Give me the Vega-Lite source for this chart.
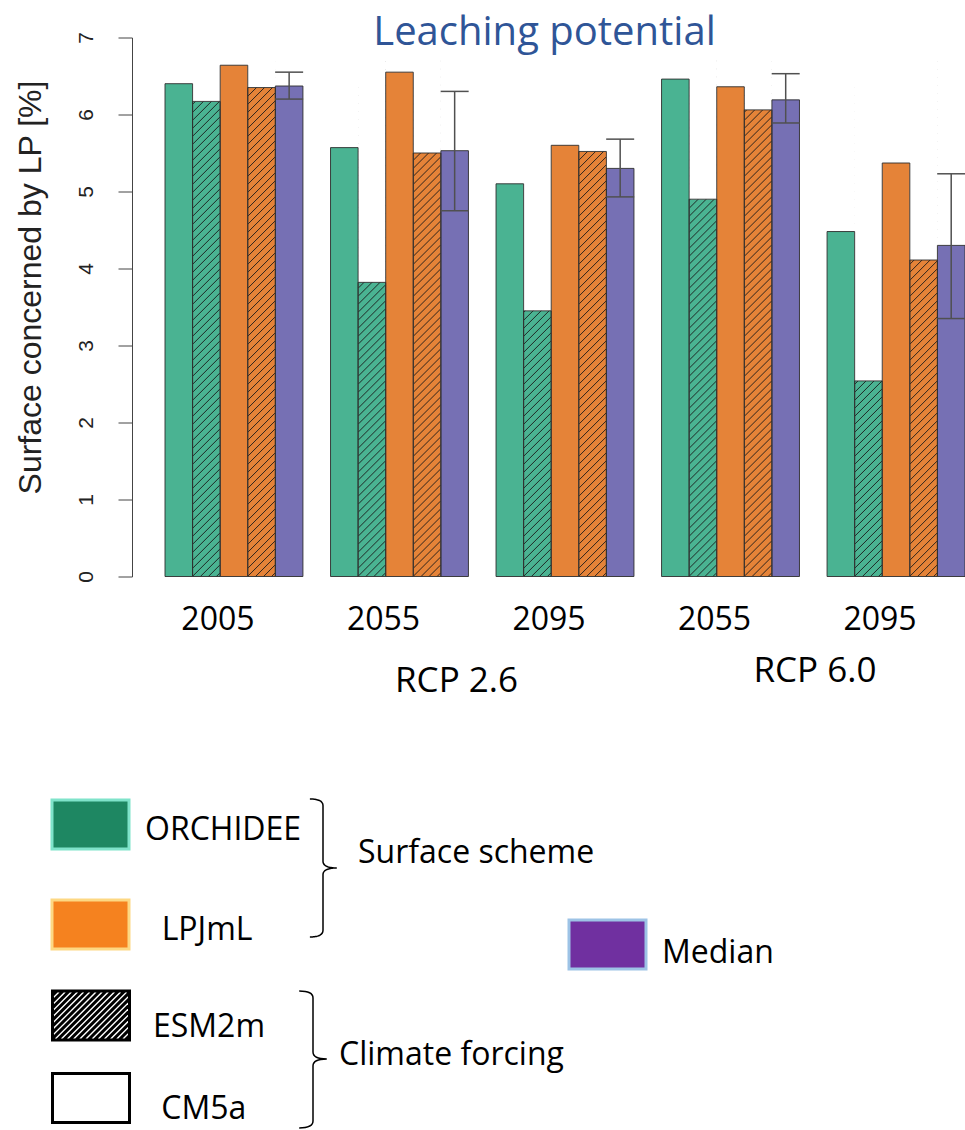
{
  "$schema": "https://vega.github.io/schema/vega-lite/v6.json",
  "width": 833,
  "height": 539,
  "autosize": {"type": "none"},
  "padding": {"left": 132, "top": 37.5, "right": 0, "bottom": 553.5},
  "background": "white",
  "title": {
    "text": "Leaching potential",
    "font": "Open Sans",
    "fontSize": 40,
    "fontWeight": "normal",
    "color": "#2f5597",
    "anchor": "middle",
    "frame": "group",
    "baseline": "alphabetic",
    "offset": -53,
    "dx": -4
  },
  "config": {
    "view": {"stroke": null},
    "axis": {"grid": false},
    "legend": {
      "labelFont": "Open Sans",
      "labelFontSize": 32,
      "labelColor": "#000000",
      "labelBaseline": "alphabetic",
      "labelLimit": 600,
      "padding": 0,
      "direction": "vertical",
      "orient": "none"
    }
  },
  "datasets": {
    "bars": [
      {"group": "2005", "series": "ORCHIDEE CM5a", "scheme": "ORCHIDEE", "forcing": "CM5a", "value": 6.40},
      {"group": "2005", "series": "ORCHIDEE ESM2m", "scheme": "ORCHIDEE", "forcing": "ESM2m", "value": 6.17},
      {"group": "2005", "series": "LPJmL CM5a", "scheme": "LPJmL", "forcing": "CM5a", "value": 6.64},
      {"group": "2005", "series": "LPJmL ESM2m", "scheme": "LPJmL", "forcing": "ESM2m", "value": 6.35},
      {"group": "2005", "series": "Median", "scheme": "Median", "forcing": null, "value": 6.37, "lo": 6.20, "hi": 6.55},
      {"group": "2055 RCP2.6", "series": "ORCHIDEE CM5a", "scheme": "ORCHIDEE", "forcing": "CM5a", "value": 5.57},
      {"group": "2055 RCP2.6", "series": "ORCHIDEE ESM2m", "scheme": "ORCHIDEE", "forcing": "ESM2m", "value": 3.82},
      {"group": "2055 RCP2.6", "series": "LPJmL CM5a", "scheme": "LPJmL", "forcing": "CM5a", "value": 6.55},
      {"group": "2055 RCP2.6", "series": "LPJmL ESM2m", "scheme": "LPJmL", "forcing": "ESM2m", "value": 5.50},
      {"group": "2055 RCP2.6", "series": "Median", "scheme": "Median", "forcing": null, "value": 5.53, "lo": 4.75, "hi": 6.30},
      {"group": "2095 RCP2.6", "series": "ORCHIDEE CM5a", "scheme": "ORCHIDEE", "forcing": "CM5a", "value": 5.10},
      {"group": "2095 RCP2.6", "series": "ORCHIDEE ESM2m", "scheme": "ORCHIDEE", "forcing": "ESM2m", "value": 3.45},
      {"group": "2095 RCP2.6", "series": "LPJmL CM5a", "scheme": "LPJmL", "forcing": "CM5a", "value": 5.60},
      {"group": "2095 RCP2.6", "series": "LPJmL ESM2m", "scheme": "LPJmL", "forcing": "ESM2m", "value": 5.52},
      {"group": "2095 RCP2.6", "series": "Median", "scheme": "Median", "forcing": null, "value": 5.30, "lo": 4.93, "hi": 5.68},
      {"group": "2055 RCP6.0", "series": "ORCHIDEE CM5a", "scheme": "ORCHIDEE", "forcing": "CM5a", "value": 6.46},
      {"group": "2055 RCP6.0", "series": "ORCHIDEE ESM2m", "scheme": "ORCHIDEE", "forcing": "ESM2m", "value": 4.90},
      {"group": "2055 RCP6.0", "series": "LPJmL CM5a", "scheme": "LPJmL", "forcing": "CM5a", "value": 6.36},
      {"group": "2055 RCP6.0", "series": "LPJmL ESM2m", "scheme": "LPJmL", "forcing": "ESM2m", "value": 6.06},
      {"group": "2055 RCP6.0", "series": "Median", "scheme": "Median", "forcing": null, "value": 6.19, "lo": 5.89, "hi": 6.53},
      {"group": "2095 RCP6.0", "series": "ORCHIDEE CM5a", "scheme": "ORCHIDEE", "forcing": "CM5a", "value": 4.48},
      {"group": "2095 RCP6.0", "series": "ORCHIDEE ESM2m", "scheme": "ORCHIDEE", "forcing": "ESM2m", "value": 2.54},
      {"group": "2095 RCP6.0", "series": "LPJmL CM5a", "scheme": "LPJmL", "forcing": "CM5a", "value": 5.37},
      {"group": "2095 RCP6.0", "series": "LPJmL ESM2m", "scheme": "LPJmL", "forcing": "ESM2m", "value": 4.11},
      {"group": "2095 RCP6.0", "series": "Median", "scheme": "Median", "forcing": null, "value": 4.30, "lo": 3.35, "hi": 5.23}
    ],
    "rcp26": [{"scenario": "RCP 2.6"}],
    "rcp60": [{"scenario": "RCP 6.0"}]
  },
  "layer": [
    {
      "data": {"name": "bars"},
      "transform": [{"filter": "datum.scheme !== 'Median'"}],
      "mark": {"type": "point", "filled": true, "size": 0, "opacity": 1},
      "encoding": {
        "x": {"field": "group", "type": "nominal"},
        "xOffset": {"field": "series", "type": "nominal"},
        "y": {"datum": 1, "type": "quantitative"},
        "fill": {
          "field": "scheme", "type": "nominal",
          "scale": {"domain": ["ORCHIDEE", "LPJmL"], "range": ["#1e8762", "#f5821f"]},
          "legend": {
            "title": null, "orient": "none", "legendX": -81.5, "legendY": 762.5,
            "symbolType": "M-1,-1.039H1V0.234H-1Z", "symbolSize": 5929, "symbolStrokeWidth": 3,
            "labelOffset": 14.5, "rowPadding": 37,
            "labelExpr": "datum.label === 'LPJmL' ? '\u200b\u00a0\u00a0LPJmL' : datum.label"
          }
        },
        "stroke": {
          "field": "scheme", "type": "nominal",
          "scale": {"domain": ["ORCHIDEE", "LPJmL"], "range": ["#7fe3ca", "#fdd883"]},
          "legend": {
            "title": null, "orient": "none", "legendX": -81.5, "legendY": 762.5,
            "symbolType": "M-1,-1.039H1V0.234H-1Z", "symbolSize": 5929, "symbolStrokeWidth": 3,
            "labelOffset": 14.5, "rowPadding": 37,
            "labelExpr": "datum.label === 'LPJmL' ? '\u200b\u00a0\u00a0LPJmL' : datum.label"
          }
        }
      }
    },
    {
      "data": {"name": "bars"},
      "transform": [{"filter": "isValid(datum.forcing)"}],
      "mark": {"type": "point", "filled": false, "color": "#000000", "size": 0, "opacity": 1},
      "encoding": {
        "x": {"field": "group", "type": "nominal"},
        "xOffset": {"field": "series", "type": "nominal"},
        "y": {"datum": 1, "type": "quantitative"},
        "shape": {
          "field": "forcing", "type": "nominal",
          "scale": {
            "domain": ["ESM2m", "CM5a"],
            "range": [
              "M-1,-1.181H1V0.091H-1ZM-1,-1.065L-0.884,-1.181M-1,-0.905L-0.724,-1.181M-1,-0.745L-0.564,-1.181M-1,-0.585L-0.404,-1.181M-1,-0.425L-0.244,-1.181M-1,-0.265L-0.084,-1.181M-1,-0.105L0.076,-1.181M-1,0.055L0.236,-1.181M-0.876,0.091L0.396,-1.181M-0.716,0.091L0.556,-1.181M-0.556,0.091L0.716,-1.181M-0.396,0.091L0.876,-1.181M-0.236,0.091L1,-1.145M-0.076,0.091L1,-0.985M0.084,0.091L1,-0.825M0.244,0.091L1,-0.665M0.404,0.091L1,-0.505M0.564,0.091L1,-0.345M0.724,0.091L1,-0.185M0.884,0.091L1,-0.025",
              "M-1,-1.181H1V0.091H-1Z"
            ]
          },
          "legend": {
            "title": null, "orient": "none", "legendX": -81, "legendY": 959,
            "symbolSize": 5929, "symbolStrokeWidth": 3, "symbolStrokeColor": "#000000",
            "labelOffset": 22, "rowPadding": 20.5,
            "labelExpr": "datum.label === 'CM5a' ? '\u200b\u00a0CM5a' : datum.label"
          }
        }
      }
    },
    {
      "data": {"name": "bars"},
      "transform": [{"filter": "datum.series === 'Median'"}],
      "mark": {"type": "point", "filled": true, "color": "#7030a0", "stroke": "#9dc3e6", "size": 0, "opacity": 1},
      "encoding": {
        "x": {"field": "group", "type": "nominal"},
        "xOffset": {"field": "series", "type": "nominal"},
        "y": {"datum": 1, "type": "quantitative"},
        "strokeWidth": {
          "field": "series", "type": "nominal",
          "scale": {"type": "ordinal", "domain": ["Median"], "range": [3]},
          "legend": {
            "title": null, "orient": "none", "legendX": 435.5, "legendY": 885.5,
            "symbolType": "M-1,-1.116H1V0.156H-1Z", "symbolSize": 5929,
            "labelOffset": 14.5
          }
        }
      }
    },
    {
      "data": {"name": "bars"},
      "transform": [{"filter": "datum.series === 'Median' && datum.group === '2005'"}],
      "mark": {"type": "point", "filled": false, "color": "#000000", "size": 0, "opacity": 1},
      "encoding": {
        "x": {"field": "group", "type": "nominal"},
        "xOffset": {"field": "series", "type": "nominal"},
        "y": {"datum": 1, "type": "quantitative"},
        "strokeDash": {
          "datum": "Surface scheme", "type": "nominal",
          "scale": {"domain": ["Surface scheme"], "range": [[1, 0]]},
          "legend": {
            "title": null, "orient": "none", "legendX": 121, "legendY": 755.5,
            "symbolType": "M-0.19,-0.928Q0,-0.928 0,-0.828L0,-0.028Q0,0.072 0.2,0.072Q0,0.072 0,0.172L0,0.972Q0,1.072 -0.19,1.072",
            "symbolSize": 19044, "symbolStrokeWidth": 1.5, "symbolStrokeColor": "#000000",
            "labelOffset": -35
          }
        }
      }
    },
    {
      "data": {"name": "bars"},
      "transform": [{"filter": "datum.series === 'Median' && datum.group === '2055 RCP2.6'"}],
      "mark": {"type": "point", "filled": false, "color": "#000000", "size": 0},
      "encoding": {
        "x": {"field": "group", "type": "nominal"},
        "xOffset": {"field": "series", "type": "nominal"},
        "y": {"datum": 1, "type": "quantitative"},
        "opacity": {
          "datum": "Climate forcing", "type": "nominal",
          "scale": {"type": "ordinal", "domain": ["Climate forcing"], "range": [1]},
          "legend": {
            "title": null, "orient": "none", "legendX": 111, "legendY": 957.5,
            "symbolType": "M-0.2,-1.072Q0,-1.072 0,-0.972L0,-0.187Q0,-0.087 0.2,-0.087Q0,-0.087 0,0.013L0,0.813Q0,0.913 -0.2,0.913",
            "symbolSize": 19044, "symbolStrokeWidth": 1.5, "symbolStrokeColor": "#000000",
            "labelOffset": -44
          }
        }
      }
    },
    {
      "data": {"name": "bars"},
      "mark": {"type": "bar"},
      "encoding": {
        "x": {
          "field": "group", "type": "nominal", "sort": null,
          "scale": {"domain": ["2005", "2055 RCP2.6", "2095 RCP2.6", "2055 RCP6.0", "2095 RCP6.0"], "range": [33, 833], "paddingInner": 0.16667, "paddingOuter": 0},
          "axis": {
            "title": null, "domain": false, "ticks": false, "tickSize": 0,
            "labelExpr": "split(datum.label, ' ')[0]",
            "labelFont": "Open Sans", "labelFontSize": 32, "labelColor": "#000000",
            "labelAngle": 0, "labelAlign": "center", "labelBaseline": "alphabetic",
            "labelPadding": 53, "labelOffset": -16
          }
        },
        "xOffset": {
          "field": "series", "type": "nominal",
          "scale": {"domain": ["ORCHIDEE CM5a", "ORCHIDEE ESM2m", "LPJmL CM5a", "LPJmL ESM2m", "Median"], "paddingInner": 0, "paddingOuter": 0}
        },
        "y": {
          "field": "value", "type": "quantitative",
          "scale": {"domain": [0, 7], "nice": false},
          "axis": {
            "title": "Surface concerned by LP [%]",
            "values": [0, 1, 2, 3, 4, 5, 6, 7],
            "format": "d",
            "tickSize": 14, "tickColor": "#444444", "domainColor": "#444444",
            "labelAngle": -90, "labelAlign": "center", "labelBaseline": "alphabetic",
            "labelPadding": 26, "labelFont": "Liberation Sans", "labelFontSize": 21,
            "labelColor": "#222222", "labelFlush": false, "labelOverlap": false,
            "titleFont": "Liberation Sans", "titleFontSize": 32, "titleFontWeight": "normal",
            "titleColor": "#222222", "titleAngle": -90, "titleAlign": "center",
            "titleBaseline": "alphabetic", "titleX": -92, "titleY": 249.5
          }
        },
        "color": {
          "field": "scheme", "type": "nominal",
          "scale": {"domain": ["ORCHIDEE", "LPJmL", "Median"], "range": ["#4ab392", "#e58338", "#7670b4"]},
          "legend": null
        }
      }
    },
    {
      "data": {"name": "bars"},
      "transform": [{"filter": "datum.forcing === 'ESM2m'"}],
      "mark": {
        "type": "point", "size": 4, "filled": false, "opacity": 1,
        "stroke": "#1a1a1a", "strokeWidth": 0.9, "strokeCap": "butt",
        "shape": "M-6,269.5L13.4,250.1M2,269.5L13.4,258.1M10,269.5L13.4,266.1M-13.4,268.9l26.8,-26.8m-26.8,18.8l26.8,-26.8m-26.8,18.8l26.8,-26.8m-26.8,18.8l26.8,-26.8m-26.8,18.8l26.8,-26.8m-26.8,18.8l26.8,-26.8m-26.8,18.8l26.8,-26.8m-26.8,18.8l26.8,-26.8m-26.8,18.8l26.8,-26.8m-26.8,18.8l26.8,-26.8m-26.8,18.8l26.8,-26.8m-26.8,18.8l26.8,-26.8m-26.8,18.8l26.8,-26.8m-26.8,18.8l26.8,-26.8m-26.8,18.8l26.8,-26.8m-26.8,18.8l26.8,-26.8m-26.8,18.8l26.8,-26.8m-26.8,18.8l26.8,-26.8m-26.8,18.8l26.8,-26.8m-26.8,18.8l26.8,-26.8m-26.8,18.8l26.8,-26.8m-26.8,18.8l26.8,-26.8m-26.8,18.8l26.8,-26.8m-26.8,18.8l26.8,-26.8m-26.8,18.8l26.8,-26.8m-26.8,18.8l26.8,-26.8m-26.8,18.8l26.8,-26.8m-26.8,18.8l26.8,-26.8m-26.8,18.8l26.8,-26.8m-26.8,18.8l26.8,-26.8m-26.8,18.8l26.8,-26.8m-26.8,18.8l26.8,-26.8m-26.8,18.8l26.8,-26.8m-26.8,18.8l26.8,-26.8m-26.8,18.8l26.8,-26.8m-26.8,18.8l26.8,-26.8m-26.8,18.8l26.8,-26.8m-26.8,18.8l26.8,-26.8m-26.8,18.8l26.8,-26.8m-26.8,18.8l26.8,-26.8m-26.8,18.8l26.8,-26.8m-26.8,18.8l26.8,-26.8m-26.8,18.8l26.8,-26.8m-26.8,18.8l26.8,-26.8m-26.8,18.8l26.8,-26.8m-26.8,18.8l26.8,-26.8m-26.8,18.8l26.8,-26.8m-26.8,18.8l26.8,-26.8m-26.8,18.8l26.8,-26.8m-26.8,18.8l26.8,-26.8m-26.8,18.8l26.8,-26.8m-26.8,18.8l26.8,-26.8m-26.8,18.8l26.8,-26.8m-26.8,18.8l26.8,-26.8m-26.8,18.8l26.8,-26.8m-26.8,18.8l26.8,-26.8m-26.8,18.8l26.8,-26.8m-26.8,18.8l26.8,-26.8m-26.8,18.8l26.8,-26.8m-26.8,18.8l26.8,-26.8m-26.8,18.8l26.8,-26.8m-26.8,18.8l26.8,-26.8"
      },
      "encoding": {
        "x": {"field": "group", "type": "nominal"},
        "xOffset": {"field": "series", "type": "nominal"},
        "y": {"datum": 3.5, "type": "quantitative"}
      }
    },
    {
      "data": {"name": "bars"},
      "transform": [{"filter": "datum.forcing === 'ESM2m'"}],
      "mark": {"type": "bar", "fill": "#ffffff"},
      "encoding": {
        "x": {"field": "group", "type": "nominal"},
        "xOffset": {"field": "series", "type": "nominal"},
        "y": {"field": "value", "type": "quantitative"},
        "y2": {"datum": 7}
      }
    },
    {
      "data": {"name": "bars"},
      "mark": {"type": "bar", "fill": "transparent", "stroke": "#2e2e2e", "strokeWidth": 0.9},
      "encoding": {
        "x": {"field": "group", "type": "nominal"},
        "xOffset": {"field": "series", "type": "nominal"},
        "y": {"field": "value", "type": "quantitative"}
      }
    },
    {
      "data": {"name": "bars"},
      "transform": [{"filter": "isValid(datum.lo)"}],
      "mark": {"type": "rule", "color": "#505050", "strokeWidth": 1.5},
      "encoding": {
        "x": {"field": "group", "type": "nominal"},
        "xOffset": {"field": "series", "type": "nominal"},
        "y": {"field": "lo", "type": "quantitative"},
        "y2": {"field": "hi"}
      }
    },
    {
      "data": {"name": "bars"},
      "transform": [{"filter": "isValid(datum.lo)"}],
      "mark": {"type": "tick", "color": "#505050", "thickness": 1.5, "size": 28, "opacity": 1},
      "encoding": {
        "x": {"field": "group", "type": "nominal"},
        "xOffset": {"field": "series", "type": "nominal"},
        "y": {"field": "lo", "type": "quantitative"}
      }
    },
    {
      "data": {"name": "bars"},
      "transform": [{"filter": "isValid(datum.hi)"}],
      "mark": {"type": "tick", "color": "#505050", "thickness": 1.5, "size": 28, "opacity": 1},
      "encoding": {
        "x": {"field": "group", "type": "nominal"},
        "xOffset": {"field": "series", "type": "nominal"},
        "y": {"field": "hi", "type": "quantitative"}
      }
    },
    {
      "data": {"name": "rcp26"},
      "mark": {"type": "text", "font": "Open Sans", "fontSize": 35, "color": "#000000", "align": "center", "baseline": "alphabetic", "dx": 57},
      "encoding": {
        "text": {"field": "scenario", "type": "nominal"},
        "x": {"datum": "2055 RCP2.6", "type": "nominal"},
        "y": {"datum": -1.5, "type": "quantitative"}
      }
    },
    {
      "data": {"name": "rcp60"},
      "mark": {"type": "text", "font": "Open Sans", "fontSize": 35, "color": "#000000", "align": "center", "baseline": "alphabetic", "dx": 84.4},
      "encoding": {
        "text": {"field": "scenario", "type": "nominal"},
        "x": {"datum": "2055 RCP6.0", "type": "nominal"},
        "y": {"datum": -1.37, "type": "quantitative"}
      }
    }
  ]
}
